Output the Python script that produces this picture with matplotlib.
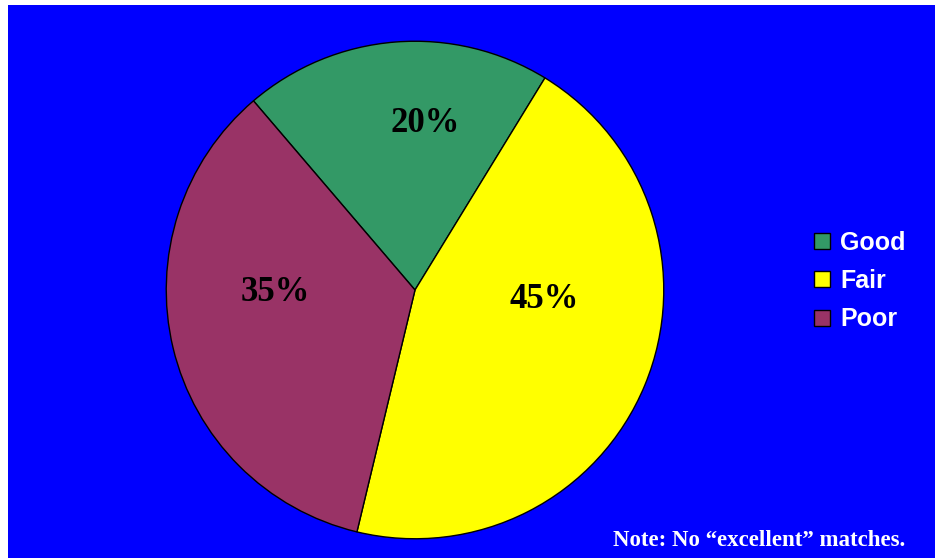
import matplotlib
matplotlib.use("Agg")
import matplotlib.pyplot as plt
from matplotlib.patches import Rectangle

categories = ["Good", "Fair", "Poor"]
values = [20, 45, 35]
colors = ["#339966", "#FFFF00", "#993366"]
pct_labels = ["20%", "45%", "35%"]
note = "Note: No \u201cexcellent\u201d matches."

W, H = 935, 559
fig = plt.figure(figsize=(W / 100, H / 100), dpi=100, facecolor="white")
fig.patches.append(Rectangle((8 / W, 1 / H), 1 - 8 / W, (558 - 5) / H,
                             transform=fig.transFigure, facecolor="#0000FF",
                             edgecolor="none", zorder=-10))

ax = fig.add_axes([165 / W, (559 - 540) / H, 500 / W, 500 / H])
ax.set_facecolor("none")
wedges, _ = ax.pie(values, colors=colors, startangle=130.5, counterclock=False,
                   radius=1, wedgeprops=dict(edgecolor="black", linewidth=1.0))
ax.set_xlim(-1.005, 1.005)
ax.set_ylim(-1.005, 1.005)
ax.set_aspect("equal")
ax.axis("off")

label_pos = [(0.04, 0.67), (0.52, -0.04), (-0.56, -0.01)]
for (x, y), t in zip(label_pos, pct_labels):
    ax.text(x, y, t, ha="center", va="center", fontsize=25, fontweight="bold",
            family="Liberation Serif", color="black")

leg = fig.legend(wedges, categories, loc="center left",
                 bbox_to_anchor=(814 / W, (559 - 281) / H),
                 frameon=False, prop=dict(family="Liberation Sans", weight="bold", size=18),
                 labelcolor="white", handlelength=0.62, handleheight=0.62,
                 handletextpad=0.42, labelspacing=0.58, borderaxespad=0, borderpad=0)

fig.text(905 / W, (559 - 540) / H, note, ha="right", va="center", color="white",
         fontsize=16.5, fontweight="bold", family="Liberation Serif")

fig.savefig("out.png", dpi=100, facecolor="white")
